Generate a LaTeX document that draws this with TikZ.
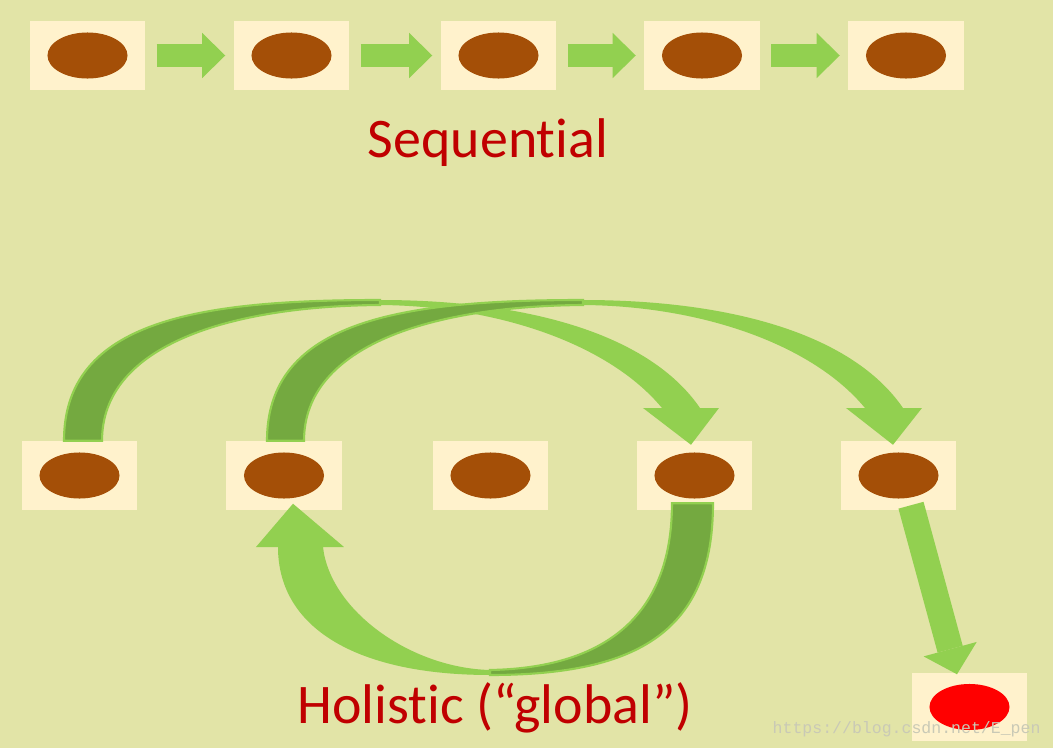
\documentclass[tikz,border=0pt]{standalone}
\usepackage{fontspec}
\setmainfont{Carlito}[Ligatures=NoCommon]
\newfontfamily\stampfont{Liberation Mono}
\usetikzlibrary{arrows.meta}
\definecolor{ground}{HTML}{E2E4A7}
\definecolor{cream}{HTML}{FFF2CC}
\definecolor{seed}{HTML}{A44F07}
\definecolor{leaf}{HTML}{92D050}
\definecolor{darkleaf}{HTML}{74A940}
\definecolor{heading}{HTML}{C00000}
\definecolor{stampgray}{HTML}{C9C9B6}

\begin{document}
\begin{tikzpicture}[x=0.01cm,y=-0.01cm,
    cell/.style={fill=cream,minimum width=1.15cm,minimum height=0.68cm,inner sep=0pt,
        path picture={\fill[#1] (path picture bounding box.center) ellipse [x radius=0.4cm,y radius=0.23cm];}},
    cell/.default=seed,
    flow/.style={leaf,line width=0.23cm,shorten <=0.11cm,shorten >=0.08cm,
        -{Triangle[length=0.23cm,width=0.45cm,line width=0pt]}},
    drop/.style={leaf,line width=0.26cm,-{Triangle[length=0.26cm,width=0.55cm,line width=0pt]}},
    back/.style={fill=darkleaf,draw=leaf,line width=0.6pt},
    front/.style={fill=leaf},
    caption/.style={font=\fontsize{15.9}{19}\selectfont,text=heading,anchor=base,inner sep=0pt},
    stamp/.style={font=\stampfont\fontsize{4.7}{5}\selectfont,text=stampgray,anchor=base west,inner sep=0pt}]
\fill[ground] (0,0) rectangle (1053,748);

\node[cell] (s1) at (87.5,55.5) {};
\node[cell] (s2) at (291.5,55.5) {};
\node[cell] (s3) at (498.5,55.5) {};
\node[cell] (s4) at (702,55.5) {};
\node[cell] (s5) at (906,55.5) {};
\draw[flow] (s1) -- (s2);
\draw[flow] (s2) -- (s3);
\draw[flow] (s3) -- (s4);
\draw[flow] (s4) -- (s5);
\node[caption] (seqtext) at (488,157) {Sequential};

\node[cell] (h1) at (79.5,475.5) {};
\node[cell] (h2) at (284,475.5) {};
\node[cell] (h3) at (490.5,475.5) {};
\node[cell] (h4) at (694.5,475.5) {};
\node[cell] (h5) at (898.5,475.5) {};
\node[cell=red] (goal) at (969.5,707) {};

\fill[back] ([xshift=-0.155cm]h1.north) .. controls (64,320) and (200,300) .. (380,300)
    -- (380,305) .. controls (230,306) and (102,345) .. ([xshift=0.225cm]h1.north) -- cycle;
\fill[front] (380,300) .. controls (530,300) and (650,335) .. (700,408) -- (719,408)
    -- ([xshift=-0.035cm,yshift=-0.04cm]h4.north) -- (643,408) -- (662,408)
    .. controls (610,345) and (500,306) .. (380,305) -- cycle;
\fill[back] ([xshift=-0.17cm]h2.north) .. controls (267,320) and (403,300) .. (583,300)
    -- (583,305) .. controls (433,306) and (304,345) .. ([xshift=0.2cm]h2.north) -- cycle;
\fill[front] (583,300) .. controls (733,300) and (853,335) .. (903,408) -- (922,408)
    -- ([xshift=-0.055cm,yshift=-0.04cm]h5.north) -- (846,408) -- (865,408)
    .. controls (813,345) and (703,306) .. (583,305) -- cycle;
\fill[back] ([xshift=0.185cm,yshift=0.07cm]h4.south) .. controls (713,630) and (640,675) .. (490,675)
    -- (490,670) .. controls (600,668) and (672,620) .. ([xshift=-0.225cm,yshift=0.07cm]h4.south) -- cycle;
\fill[front] (490,675) .. controls (360,675) and (278,630) .. (278,547) -- (256,547)
    -- ([xshift=0.09cm,yshift=0.065cm]h2.south) -- (344,547) -- (323,547)
    .. controls (330,610) and (410,668) .. (490,670) -- cycle;
\draw[drop] ([xshift=0.125cm,yshift=0.05cm]h5.south) -- ([xshift=-0.125cm,yshift=-0.02cm]goal.north);

\node[caption] (holtext) at (495,723) {Holistic (“global”)};
\node[stamp] (stamp) at (772,733) {https://blog.csdn.net/E\_pen};
\end{tikzpicture}
\end{document}
